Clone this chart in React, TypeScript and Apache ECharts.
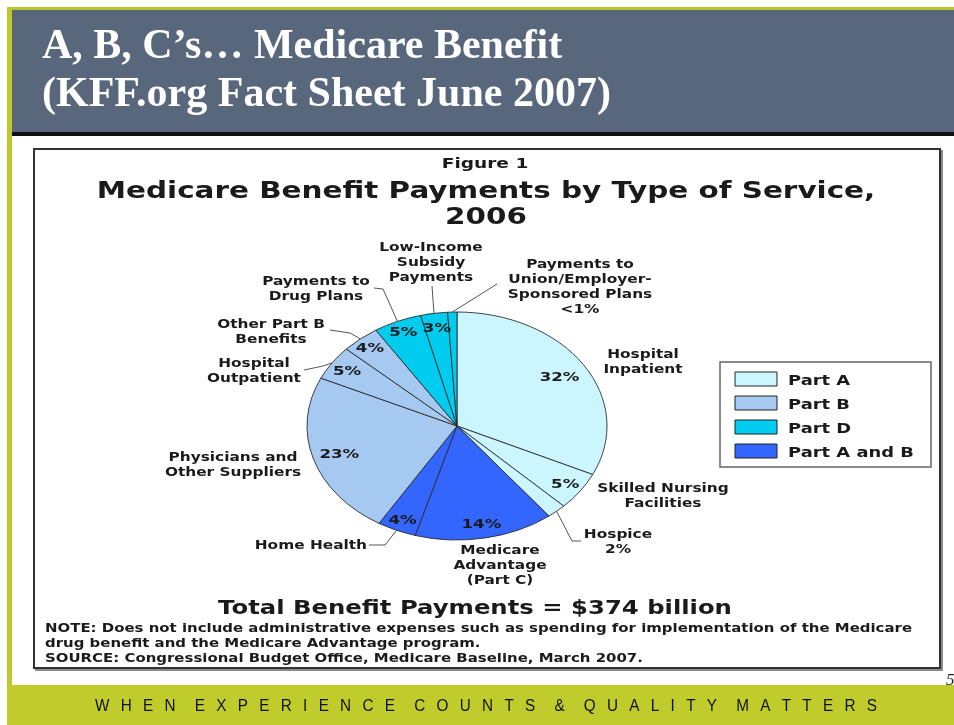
import React, { useEffect, useRef } from 'react';
import * as echarts from 'echarts';

// ---------- data ----------
const categories = [
  'Hospital Inpatient',
  'Skilled Nursing Facilities',
  'Hospice',
  'Medicare Advantage (Part C)',
  'Home Health',
  'Physicians and Other Suppliers',
  'Hospital Outpatient',
  'Other Part B Benefits',
  'Payments to Drug Plans',
  'Low-Income Subsidy Payments',
  'Payments to Union/Employer-Sponsored Plans',
];
const shares = [32.0, 5.4, 2.1, 15.0, 4.2, 23.2, 4.9, 4.1, 5.2, 2.9, 1.0];
const shareLabels = ['32%', '5%', '', '14%', '4%', '23%', '5%', '4%', '5%', '3%', ''];
const outerLabels = [
  'Hospital\nInpatient',
  'Skilled Nursing\nFacilities',
  'Hospice\n2%',
  'Medicare\nAdvantage\n(Part C)',
  'Home Health',
  'Physicians and\nOther Suppliers',
  'Hospital\nOutpatient',
  'Other Part B\nBenefits',
  'Payments to\nDrug Plans',
  'Low-Income\nSubsidy\nPayments',
  'Payments to\nUnion/Employer-\nSponsored Plans\n<1%',
];
const sliceParts = [0, 0, 0, 3, 3, 1, 1, 1, 2, 2, 2];
const partNames = ['Part A', 'Part B', 'Part D', 'Part A and B'];

const headerLines = ['A, B, C\u2019s\u2026 Medicare Benefit', '(KFF.org Fact Sheet June 2007)'];
const figureLabel = 'Figure 1';
const chartTitle = ['Medicare Benefit Payments by Type of Service,', '2006'];
const totalLine = 'Total Benefit Payments = $374 billion';
const noteLines = [
  'NOTE: Does not include administrative expenses such as spending for implementation of the Medicare',
  'drug benefit and the Medicare Advantage program.',
  'SOURCE: Congressional Budget Office, Medicare Baseline, March 2007.',
];
const tagline = 'WHEN EXPERIENCE COUNTS & QUALITY MATTERS';
const pageNumber = '5';

// ---------- styling / layout ----------
const partColors = ['#ccf6ff', '#a6c9f2', '#00ccf0', '#3366ff'];
const CX = 457;
const CY = 426;
const RX = 150;
const RY = 114;
const SX = 1.28;
const FIG_FONT = '"DejaVu Sans", Verdana, sans-serif';

// approximate glyph advances (em) of an Arial-metric font, for letter-spacing the tagline
const glyphEm: Record<string, number> = {
  W: 0.944, H: 0.722, E: 0.667, N: 0.722, X: 0.667, P: 0.667, R: 0.722, I: 0.278,
  C: 0.722, O: 0.778, U: 0.722, T: 0.611, S: 0.667, '&': 0.667, Q: 0.778, A: 0.667,
  L: 0.556, Y: 0.667, M: 0.833,
};

const labelPos: [number, number, string][] = [
  [643, 361, 'center'],
  [663, 495, 'center'],
  [618, 541, 'center'],
  [500, 565, 'center'],
  [367, 545, 'right'],
  [233, 464, 'center'],
  [254, 370, 'center'],
  [271, 331, 'center'],
  [316, 288, 'center'],
  [431, 262, 'center'],
  [580, 286, 'center'],
];
const leaderBends: (number[][] | null)[] = [
  null,
  null,
  [[572, 541], [581, 541]],
  null,
  [[385, 545], [369, 545]],
  null,
  [[323, 366], [304, 370]],
  [[350, 333], [330, 330]],
  [[383, 289], [374, 288]],
  [[432, 286]],
  [[497, 284]],
];
const pctRadius = [0.81, 0.88, 0, 0.87, 0.9, 0.82, 0.88, 0.9, 0.9, 0.87, 0];

function txt(text: string, x: number, y: number, size: number, o: any = {}) {
  const align = o.align ?? 'center';
  return {
    type: 'text',
    x,
    y,
    scaleX: o.sx ?? SX,
    z2: o.z2 ?? 10,
    style: {
      text,
      fill: o.fill ?? '#1a1a1a',
      fontSize: size,
      fontFamily: o.family ?? FIG_FONT,
      fontWeight: o.weight ?? 'bold',
      fontStyle: o.fontStyle ?? 'normal',
      align,
      textAlign: align,
      verticalAlign: 'middle',
      textVerticalAlign: 'middle',
      lineHeight: o.lh ?? Math.round(size * 1.25),
    },
  };
}

export default function App() {
  const ref = useRef<HTMLDivElement>(null);

  useEffect(() => {
    if (!ref.current) return;
    const chart = echarts.init(ref.current, null, { renderer: 'svg' });

    const total = shares.reduce((a, b) => a + b, 0);
    const cum = shares.map((_, i) => shares.slice(0, i).reduce((a, b) => a + b, 0));

    // tagline letter-spaced, per character
    const tagFont = 17;
    const tagSX = 0.9;
    const wordGapFactor = 1.7;
    const chars = tagline.split('');
    const letters = chars.filter((c) => c !== ' ');
    const spaces = chars.length - letters.length;
    const sumW = letters.reduce((a, c) => a + (glyphEm[c] ?? 0.667) * tagFont * tagSX, 0);
    const tagStart = 95;
    const tagEnd = 877;
    const gap =
      (tagEnd - tagStart - sumW) / (letters.length - 1 + spaces * (wordGapFactor - 1));
    const tagEls: any[] = [];
    let tx = tagStart;
    chars.forEach((c) => {
      if (c === ' ') {
        tx += (wordGapFactor - 1) * gap;
        return;
      }
      tagEls.push(
        txt(c, tx, 705, tagFont, {
          family: '"Liberation Sans", Arial, sans-serif',
          weight: 'normal',
          align: 'left',
          sx: tagSX,
          fill: '#111',
        })
      );
      tx += (glyphEm[c] ?? 0.667) * tagFont * tagSX + gap;
    });

    const legendEls: any[] = [
      {
        type: 'rect',
        shape: { x: 720, y: 362, width: 211, height: 105 },
        style: { fill: '#fff', stroke: '#666', lineWidth: 1.5 },
      },
    ];
    partNames.forEach((name, i) => {
      legendEls.push({
        type: 'rect',
        shape: { x: 735, y: 372 + 24 * i, width: 42, height: 14 },
        style: { fill: partColors[i], stroke: '#222', lineWidth: 1 },
      });
      legendEls.push(txt(name, 788, 380 + 24 * i, 14, { align: 'left' }));
    });

    const graphicEls: any[] = [
      // page chrome
      { type: 'rect', shape: { x: 0, y: 0, width: 954, height: 725 }, style: { fill: '#ffffff' } },
      { type: 'rect', shape: { x: 7, y: 7, width: 947, height: 3 }, style: { fill: '#b8c42a' } },
      { type: 'rect', shape: { x: 7, y: 7, width: 5, height: 718 }, style: { fill: '#bcc82c' } },
      { type: 'rect', shape: { x: 12, y: 10, width: 942, height: 123 }, style: { fill: '#58677b' } },
      { type: 'rect', shape: { x: 12, y: 132, width: 942, height: 4 }, style: { fill: '#111' } },
      { type: 'rect', shape: { x: 7, y: 685, width: 947, height: 40 }, style: { fill: '#c0cc2c' } },
      txt(headerLines[0], 42, 44, 42, {
        family: '"Liberation Serif", "Times New Roman", serif',
        fill: '#ffffff',
        align: 'left',
        sx: 1,
      }),
      txt(headerLines[1], 42, 92, 42, {
        family: '"Liberation Serif", "Times New Roman", serif',
        fill: '#ffffff',
        align: 'left',
        sx: 1,
      }),
      // figure box
      {
        type: 'rect',
        shape: { x: 36, y: 151, width: 906, height: 519 },
        style: { fill: 'none', stroke: '#8a8a8a', lineWidth: 2 },
      },
      {
        type: 'rect',
        shape: { x: 34, y: 149, width: 906, height: 519 },
        style: { fill: '#ffffff', stroke: '#333', lineWidth: 2 },
      },
      txt(figureLabel, 485, 163, 14.5),
      txt(chartTitle[0], 486, 190, 23),
      txt(chartTitle[1], 486, 216, 23),
      txt(totalLine, 475, 607, 19),
      ...noteLines.map((l, i) => txt(l, 45, 628 + 15 * i, 11.5, { align: 'left', sx: 1.3 })),
      ...legendEls,
      ...tagEls,
      txt(pageNumber, 946, 679, 17, {
        family: '"Liberation Serif", serif',
        weight: 'normal',
        fontStyle: 'italic',
        align: 'left',
        sx: 1,
        fill: '#222',
      }),
    ];

    const renderItem = (params: any, api: any) => {
      const v = api.value(0) as number;
      const i = api.value(1) as number;
      const a0 = -Math.PI / 2 + (2 * Math.PI * cum[i]) / total;
      const a1 = a0 + (2 * Math.PI * v) / total;
      const mid = (a0 + a1) / 2;
      const pt = (k: number) => [CX + RX * k * Math.cos(mid), CY + RY * k * Math.sin(mid)];
      const children: any[] = [
        {
          type: 'sector',
          x: CX,
          y: CY,
          scaleY: RY / RX,
          z2: 1,
          shape: { cx: 0, cy: 0, r: RX, r0: 0, startAngle: a0, endAngle: a1, clockwise: true },
          style: {
            fill: partColors[sliceParts[i]],
            stroke: '#2a2a2a',
            lineWidth: 1,
            strokeNoScale: true,
          },
        },
      ];
      if (shareLabels[i]) {
        const p = pt(pctRadius[i]);
        children.push(txt(shareLabels[i], p[0], p[1], 13, { z2: 20 }));
      }
      const lp = labelPos[i];
      children.push(txt(outerLabels[i], lp[0], lp[1], 12, { align: lp[2], lh: 15, z2: 20 }));
      const bends = leaderBends[i];
      if (bends) {
        children.push({
          type: 'polyline',
          z2: 15,
          shape: { points: [pt(1), ...bends] },
          style: { fill: 'none', stroke: '#555', lineWidth: 1 },
        });
      }
      return { type: 'group', children };
    };

    chart.setOption({
      animation: false,
      graphic: { elements: graphicEls },
      series: [
        {
          type: 'custom',
          name: 'Medicare Benefit Payments',
          coordinateSystem: 'none',
          silent: true,
          renderItem,
          data: shares.map((v, i) => ({ name: categories[i], value: [v, i] })),
        },
      ],
    });

    return () => chart.dispose();
  }, []);

  return (
    <div
      ref={ref}
      style={{ position: 'fixed', left: 0, top: 0, width: 954, height: 725 }}
    />
  );
}
